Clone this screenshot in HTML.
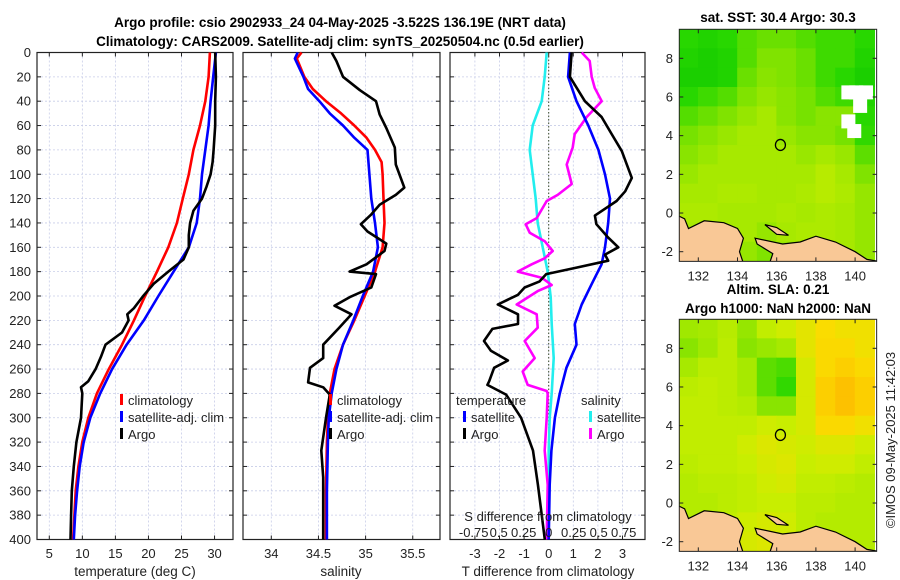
<!DOCTYPE html>
<html><head><meta charset="utf-8">
<style>
html,body{margin:0;padding:0;background:#fff;}
svg{display:block;font-family:"Liberation Sans","DejaVu Sans",sans-serif;}
</style></head>
<body>
<svg id="fig" width="900" height="580" viewBox="0 0 900 580" xmlns="http://www.w3.org/2000/svg">
<text x="340" y="27" text-anchor="middle" font-size="13.5" font-weight="bold">Argo profile: csio 2902933_24 04-May-2025 -3.522S 136.19E (NRT data)</text>
<text x="340" y="46" text-anchor="middle" font-size="13.5" font-weight="bold">Climatology: CARS2009. Satellite-adj clim: synTS_20250504.nc (0.5d earlier)</text>
<text x="778" y="22" text-anchor="middle" font-size="13.5" font-weight="bold">sat. SST: 30.4 Argo: 30.3</text>
<text x="778" y="294" text-anchor="middle" font-size="13.5" font-weight="bold">Altim. SLA: 0.21</text>
<text x="778" y="313" text-anchor="middle" font-size="13.5" font-weight="bold">Argo h1000: NaN h2000: NaN</text>
<text transform="translate(895,440) rotate(-90)" text-anchor="middle" font-size="13" fill="#222">©IMOS 09-May-2025 11:42:03</text>
<g id="layer"></g>
</svg>
<script>
// ---------- data ----------
const depths = [0,20,40,60,80,100,120,140,160,180,200,220,240,260,280,300,320,340,360,380,400];
const tempClim = [29.3,29.1,28.6,27.8,26.8,26.1,25.2,24.3,23.0,21.3,19.5,17.8,16.0,14.0,12.2,10.9,10.0,9.4,9.0,8.8,8.6];
const tempSat = [30.2,29.8,29.4,29.1,28.6,28.1,27.8,27.3,26.1,23.8,21.5,19.3,16.7,14.5,12.7,11.2,10.2,9.6,9.2,8.9,8.7];
const argoTDepth = [0,20,40,60,80,90,100,110,120,130,140,150,160,170,180,190,200,210,215,220,230,240,250,260,270,275,280,300,320,340,360,380,400];
const argoTemp = [30.1,30.2,30.1,30.1,29.85,29.7,29.4,28.8,28.1,26.8,26.3,26.1,26.1,25.3,23.0,20.8,19.2,17.8,16.8,17.0,16.0,13.5,12.8,12.0,10.9,9.8,10.0,9.8,9.1,8.7,8.4,8.3,8.2];
const salClimDepth = [0,5,20,30,40,50,60,70,80,90,100,120,140,160,180,200,220,240,260,280,300,320,360,400];
const salClim = [34.32,34.27,34.35,34.44,34.58,34.74,34.88,35.01,35.10,35.17,35.18,35.19,35.20,35.18,35.10,34.99,34.88,34.76,34.67,34.62,34.60,34.59,34.58,34.58];
const salSatDepth = [0,5,20,30,40,50,60,70,80,100,120,140,160,180,200,220,240,260,280,300,320,360,400];
const salSat = [34.28,34.25,34.34,34.39,34.51,34.62,34.76,34.88,35.02,35.04,35.06,35.10,35.13,35.08,34.97,34.87,34.76,34.69,34.64,34.61,34.60,34.59,34.59];
const argoSDepth = [0,7,20,31,40,51,62,78,92,111,117,125,133,141,147,157,163,174,180,182,193,201,208,215,226,240,251,259,271,275,281,300,327,349,382,400];
const argoSal = [34.64,34.69,34.76,34.94,35.11,35.15,35.22,35.31,35.32,35.41,35.32,35.15,35.06,34.95,35.02,35.22,35.20,35.01,34.83,35.11,35.06,34.83,34.67,34.85,34.72,34.55,34.55,34.41,34.39,34.55,34.62,34.58,34.53,34.55,34.55,34.55];
const tDiffSatDepth = [0,20,40,60,80,100,120,140,160,174,190,207,223,240,259,280,300,327,355,400];
const tDiffSat = [0.86,0.79,1.13,1.61,2.02,2.29,2.49,2.42,2.29,2.15,1.75,1.34,1.06,1.13,0.72,0.45,0.25,0.11,0.04,0.0];
const tDiffArgoDepth = [0,20,40,53,67,81,103,114,122,134,141,152,160,166,171,177,182,188,193,199,207,215,223,227,237,245,253,259,270,273,281,300,327,355,377,400];
const tDiffArgo = [0.93,0.86,1.47,2.15,2.56,2.97,3.38,3.11,2.76,1.88,1.94,2.42,2.83,2.29,2.42,1.06,-0.1,-0.37,-0.98,-1.25,-2.07,-1.25,-1.25,-2.29,-2.63,-2.35,-1.66,-2.22,-2.42,-2.49,-1.73,-1.12,-0.64,-0.44,-0.3,-0.16];
const sDiffSatDepth = [0,20,40,60,80,100,120,140,160,180,201,223,251,280,300,327,400];
const sDiffSat = [-0.02,-0.04,-0.07,-0.16,-0.19,-0.16,-0.13,-0.11,-0.06,-0.01,0.02,0.03,0.05,0.03,0.01,0.0,0.0];
const sDiffArgoDepth = [0,7,20,29,40,53,67,78,92,108,117,122,136,141,148,155,163,169,174,180,185,191,196,207,215,226,237,251,262,273,278,280,300,327,355,400];
const sDiffArgo = [0.33,0.41,0.43,0.46,0.53,0.38,0.26,0.24,0.18,0.23,0.09,-0.02,-0.12,-0.23,-0.19,-0.04,0.04,-0.04,-0.17,-0.31,-0.07,0.03,-0.11,-0.32,-0.12,-0.11,-0.24,-0.14,-0.26,-0.21,-0.02,-0.01,-0.02,-0.04,-0.01,-0.02];
const depthTicks = [0,20,40,60,80,100,120,140,160,180,200,220,240,260,280,300,320,340,360,380,400];
const tempTicks = [5,10,15,20,25,30];
const salTicks = [34,34.5,35,35.5];
const tDiffTicks = [-3,-2,-1,0,1,2,3];
const sDiffTicks = [-0.75,-0.5,-0.25,0,0.25,0.5,0.75];
const sDiffTickLabels = ['-0.75','0.5','0.25','0','0.25','0.5','0.75'];
const lonTicks = [132,134,136,138,140];
const latTicks = [-2,0,2,4,6,8];
const sstGrid = [
[0.3,0.25,0.3,0.4,0.45,0.45,0.4,0.35,0.35,0.3],
[0.25,0.2,0.25,0.4,0.5,0.5,0.45,0.35,0.35,0.25],
[0.2,0.2,0.25,0.45,0.52,0.5,0.45,0.35,0.3,0.2],
[0.3,0.35,0.4,0.5,0.55,0.52,0.48,0.4,0.35,0.25],
[0.4,0.45,0.5,0.55,0.6,0.52,0.48,0.52,0.52,0.3],
[0.48,0.52,0.56,0.6,0.6,0.56,0.52,0.52,0.48,0.32],
[0.52,0.56,0.6,0.6,0.6,0.6,0.56,0.6,0.56,0.42],
[0.56,0.6,0.6,0.6,0.6,0.6,0.6,0.65,0.6,0.5],
[0.6,0.6,0.62,0.62,0.6,0.6,0.62,0.65,0.62,0.55],
[0.62,0.62,0.6,0.6,0.6,0.62,0.6,0.62,0.6,0.55],
[0.6,0.62,0.6,0.6,0.55,0.6,0.62,0.62,0.6,0.55],
[0.6,0.6,0.55,0.55,0.5,0.55,0.6,0.6,0.6,0.55]];
const slaGrid = [
[0.58,0.6,0.65,0.55,0.68,0.72,0.78,0.85,0.82,0.82],
[0.52,0.58,0.66,0.52,0.56,0.6,0.78,0.86,0.86,0.82],
[0.6,0.66,0.66,0.6,0.42,0.38,0.74,0.86,0.9,0.86],
[0.66,0.68,0.66,0.6,0.42,0.32,0.74,0.9,0.95,0.9],
[0.68,0.68,0.66,0.64,0.52,0.52,0.74,0.9,0.95,0.9],
[0.68,0.68,0.68,0.68,0.72,0.7,0.74,0.86,0.86,0.82],
[0.68,0.68,0.68,0.72,0.76,0.74,0.72,0.76,0.76,0.72],
[0.66,0.68,0.68,0.7,0.74,0.76,0.7,0.72,0.72,0.68],
[0.64,0.66,0.66,0.68,0.72,0.74,0.68,0.68,0.66,0.64],
[0.64,0.64,0.66,0.68,0.7,0.7,0.66,0.66,0.64,0.64],
[0.64,0.66,0.68,0.72,0.74,0.72,0.66,0.64,0.64,0.64],
[0.64,0.66,0.7,0.74,0.76,0.72,0.66,0.64,0.64,0.64]];
const sstWhite = [[139.3,6.2],[139.7,6.2],[140.2,6.2],[139.9,5.5],[139.3,4.7],[139.6,4.2]];

// ---------- scales ----------
const NS='http://www.w3.org/2000/svg';
const layer=document.getElementById('layer');
const Y0=52.5, YK=1.2175;
const yD=d=>Y0+d*YK;
const xT=t=>49.3+(t-5)*6.61;
const xS=s=>271.3+(s-34)*94.3;
const xTD=v=>548.7+v*24.6;
const xSD=v=>548.7+v*100;
const lonX=l=>698.3+(l-132)*19.6;
const latY1=l=>58.3+(8-l)*19.34;
const latY2=l=>348.3+(8-l)*19.34;
function el(tag,attrs,parent){const e=document.createElementNS(NS,tag);for(const k in attrs)e.setAttribute(k,attrs[k]);(parent||layer).appendChild(e);return e;}
function txt(x,y,s,size,anchor,parent){const t=el('text',{x:x,y:y,'font-size':size,'text-anchor':anchor||'middle',fill:'#222'},parent);t.textContent=s;return t;}

const panels=[{x0:37,x1:233,name:'temperature-panel'},{x0:243,x1:440,name:'salinity-panel'},{x0:450,x1:645,name:'difference-panel'}];
const yBot=yD(400);
panels.forEach((p,i)=>{
  const g=el('g',{});
  
  
  depthTicks.forEach(d=>{
    const l=el('line',{x1:p.x0,x2:p.x1,y1:yD(d),y2:yD(d),stroke:'#c8cde8','stroke-width':0.8,'stroke-dasharray':'2,2'},g);
    
    
    el('line',{x1:p.x0,x2:p.x0+4,y1:yD(d),y2:yD(d),stroke:'#222'},g);
    el('line',{x1:p.x1-4,x2:p.x1,y1:yD(d),y2:yD(d),stroke:'#222'},g);
  });
  const ticks=i===0?tempTicks:(i===1?salTicks:tDiffTicks);
  const sx=i===0?xT:(i===1?xS:xTD);
  ticks.forEach(t=>{
    el('line',{x1:sx(t),x2:sx(t),y1:Y0,y2:yBot,stroke:'#c8cde8','stroke-width':0.8,'stroke-dasharray':'2,2'},g);
    el('line',{x1:sx(t),x2:sx(t),y1:yBot-4,y2:yBot,stroke:'#222'},g);
    el('line',{x1:sx(t),x2:sx(t),y1:Y0,y2:Y0+4,stroke:'#222'},g);
    const lb=txt(sx(t),558,String(t),13,'middle',g);
    
    
  });
  const fr=el('rect',{x:p.x0,y:Y0,width:p.x1-p.x0,height:yBot-Y0,fill:'none',stroke:'#222','stroke-width':1.2},g);
  
  
});
depthTicks.forEach(d=>{
  const t=txt(31,yD(d)+4.5,String(d),13,'end');
  
  
});
const xt1=txt(135,576,'temperature (deg C)',13.5);


const xt2=txt(341,576,'salinity',13.5);


const xt3=txt(548,576,'T difference from climatology',13.5);


const zl=el('line',{x1:xTD(0),x2:xTD(0),y1:Y0,y2:yBot,stroke:'#3a4a2a','stroke-width':1,'stroke-dasharray':'1.5,2'});



function series(ds,vs,sx,color,name,w){
  const pts=ds.map((d,i)=>sx(vs[i]).toFixed(1)+','+yD(d).toFixed(1)).join(' ');
  const pl=el('polyline',{points:pts,fill:'none',stroke:color,'stroke-width':w||2.6,'stroke-linejoin':'round'});
  
  
}
series(depths,tempClim,xT,'#ff0000','temp-climatology-line');
series(depths,tempSat,xT,'#0000ff','temp-satellite-line');
series(argoTDepth,argoTemp,xT,'#000000','temp-argo-line');
series(salClimDepth,salClim,xS,'#ff0000','salinity-climatology-line');
series(salSatDepth,salSat,xS,'#0000ff','salinity-satellite-line');
series(argoSDepth,argoSal,xS,'#000000','salinity-argo-line');
series(sDiffSatDepth,sDiffSat,xSD,'#22eeee','s-diff-satellite-line');
series(sDiffArgoDepth,sDiffArgo,xSD,'#ff00ff','s-diff-argo-line');
series(tDiffSatDepth,tDiffSat,xTD,'#0000ff','t-diff-satellite-line');
series(tDiffArgoDepth,tDiffArgo,xTD,'#000000','t-diff-argo-line');

function legEntry(x,y,color,label,name){
  const g=el('g',{});
  
  
  el('rect',{x:x,y:y-11,width:3,height:11,fill:color},g);
  txt(x+8,y,label,13,'start',g);
}
legEntry(120,405,'#ff0000','climatology','legend-temp-climatology');
legEntry(120,422,'#0000ff','satellite-adj. clim','legend-temp-satellite');
legEntry(120,439,'#000000','Argo','legend-temp-argo');
legEntry(329,405,'#ff0000','climatology','legend-sal-climatology');
legEntry(329,422,'#0000ff','satellite-adj. clim','legend-sal-satellite');
legEntry(329,439,'#000000','Argo','legend-sal-argo');
const lt=txt(456,405,'temperature',13,'start');


const ls=txt(581,405,'salinity',13,'start');


legEntry(463,422,'#0000ff','satellite','legend-tdiff-satellite');
legEntry(463,439,'#000000','Argo','legend-tdiff-argo');
legEntry(589,422,'#22eeee','satellite','legend-sdiff-satellite');
legEntry(589,439,'#ff00ff','Argo','legend-sdiff-argo');
const sat=txt(548,521,'S difference from climatology',13);


sDiffTicks.forEach((v,i)=>{
  const t=txt(xSD(v),537,sDiffTickLabels[i],13);
  
  
});

// ---------- maps ----------
const cstops=[[0,[0,190,0]],[0.3,[40,215,0]],[0.55,[150,230,0]],[0.7,[200,238,0]],[0.85,[250,220,0]],[1,[255,180,0]]];
function cmap(v){for(let i=1;i<cstops.length;i++){if(v<=cstops[i][0]){const a=cstops[i-1],b=cstops[i];const f=(v-a[0])/(b[0]-a[0]);const c=a[1].map((x,k)=>Math.round(x+(b[1][k]-x)*f));return 'rgb('+c.join(',')+')';}}return 'rgb(255,180,0)';}
const LON0=131.03,LON1=141.1,LAT0=-2.5,LAT1=9.5;
function drawMap(grid,latY,name,white){
  const g=el('g',{});
  
  
  const cid='clip'+name;
  const cp=el('clipPath',{id:cid},g);
  el('rect',{x:lonX(LON0),y:latY(LAT1),width:lonX(LON1)-lonX(LON0),height:latY(LAT0)-latY(LAT1)},cp);
  const inner=el('g',{'clip-path':'url(#'+cid+')'},g);
  grid.forEach((row,r)=>row.forEach((v,c)=>{
    const cell=el('rect',{x:lonX(131+c)-0.3,y:latY(9.5-r)-0.3,width:19.6+0.6,height:19.34+0.6,fill:cmap(v)},inner);
    
    
  }));
  if(white){white.forEach(w=>{el('rect',{x:lonX(w[0]),y:latY(w[1]+0.4),width:14,height:14,fill:'#fff'},inner);});}
  const land=[[130.9,-0.1],[131.3,-0.3],[131.5,-0.8],[132.3,-0.4],[133.3,-0.5],[134,-0.8],[134.3,-1.3],[134.1,-2],[134.3,-2.6],[130.9,-2.6]];
  const land2=[[134.9,-1.3],[136.3,-1.6],[137.2,-1.5],[138,-1.2],[139,-1.5],[140,-2.0],[140.6,-2.4],[141.2,-2.5],[141.2,-2.7],[135.6,-2.7],[135.8,-2.1],[135,-1.6]];
  const isl=[[135.4,-0.6],[136,-0.75],[136.6,-1.15],[136,-1.1]];
  [land,land2,isl].forEach((pg,i)=>{
    const p=el('polygon',{points:pg.map(q=>lonX(q[0]).toFixed(1)+','+latY(q[1]).toFixed(1)).join(' '),fill:'#f9c896',stroke:'#000','stroke-width':1.2},inner);
    
    
  });
  const mk=el('ellipse',{cx:lonX(136.19),cy:latY(3.52),rx:5,ry:5.5,fill:'none',stroke:'#000','stroke-width':1.3},g);
  
  
  el('rect',{x:lonX(LON0),y:latY(LAT1),width:lonX(LON1)-lonX(LON0),height:latY(LAT0)-latY(LAT1),fill:'none',stroke:'#222','stroke-width':1},g);
  lonTicks.forEach(l=>{
    el('line',{x1:lonX(l),x2:lonX(l),y1:latY(LAT0),y2:latY(LAT0)-4,stroke:'#222'},g);
    el('line',{x1:lonX(l),x2:lonX(l),y1:latY(LAT1),y2:latY(LAT1)+4,stroke:'#222'},g);
    const t=txt(lonX(l),latY(LAT0)+19,String(l),13,'middle',g);
    
    
  });
  latTicks.forEach(l=>{
    el('line',{x1:lonX(LON0),x2:lonX(LON0)+4,y1:latY(l),y2:latY(l),stroke:'#222'},g);
    el('line',{x1:lonX(LON1),x2:lonX(LON1)-4,y1:latY(l),y2:latY(l),stroke:'#222'},g);
    const t=txt(673,latY(l)+4.5,String(l),13,'end',g);
    
    
  });
}
drawMap(sstGrid,latY1,'sst-map',sstWhite);
drawMap(slaGrid,latY2,'sla-map',null);
</script>
</body></html>
